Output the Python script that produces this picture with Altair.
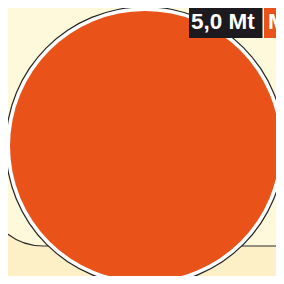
import altair as alt
import pandas as pd

# ---- values (reference pixel frame, 284 x 284) ----
tonnage_label = ["5,0 Mt", "Mt"]
label_colors = ["#1c1a1f", "#e9531a"]
bubble_center = [145.0, 146.0]
bubble_radii = [139.8, 138.6, 135.0]          # outline, white ring, disc
bubble_colors = ["#222222", "#ffffff", "#e9531a"]

# page has an 8px margin: chart covers the reference frame 8..276
PW = 268
xs = alt.Scale(domain=[8, 276], range=[0, PW])
ys = alt.Scale(domain=[8, 276], range=[0, PW])
X = lambda f: alt.X(f, scale=xs, axis=None)
Y = lambda f: alt.Y(f, scale=ys, axis=None)

# light panel with rounded bottom-left corner
panel = pd.DataFrame({"x": [-15], "x2": [400], "y": [-60], "y2": [246]})
panel_ch = alt.Chart(panel).mark_rect(
    fill="#fff9dc", stroke="#2a2a2a", strokeWidth=1.2,
    cornerRadius=58, clip=True
).encode(x=X("x:Q"), x2="x2:Q", y=Y("y:Q"), y2="y2:Q")

# bubble as concentric discs
circ = pd.DataFrame({
    "cx": [bubble_center[0]] * 3, "cy": [bubble_center[1]] * 3,
    "r": bubble_radii, "c": bubble_colors, "o": [0, 1, 2],
})
discs = []
for i in range(3):
    discs.append(
        alt.Chart(circ).transform_filter(alt.datum.o == i).mark_arc(
            theta=0, theta2=6.28319, radius=bubble_radii[i],
            color=bubble_colors[i], clip=True
        ).encode(x=X("cx:Q"), y=Y("cy:Q"))
    )

# labels (nudged so they stay inside the visible frame)
lab = pd.DataFrame({
    "x": [189, 264], "x2": [262.5, 330], "y": [-10, -10], "y2": [38, 38],
    "tx": [191, 268], "ty": [29, 29], "label": tonnage_label, "c": label_colors,
})
lab_box = alt.Chart(lab).mark_rect(clip=True).encode(
    x=X("x:Q"), x2="x2:Q", y=Y("y:Q"), y2="y2:Q",
    color=alt.Color("c:N", scale=None),
)
lab_txt = alt.Chart(lab).mark_text(
    align="left", baseline="alphabetic", font="Liberation Sans",
    fontWeight="bold", fontSize=22.5, color="#ffffff", clip=True
).encode(x=X("tx:Q"), y=Y("ty:Q"), text="label:N")

chart = alt.layer(panel_ch, *discs, lab_box, lab_txt).properties(
    width=PW, height=PW, padding=0, autosize=alt.AutoSizeParams(type="none"),
    background="#fdefc6",
).configure_view(stroke=None)

chart.save("out.html", embed_options={"renderer": "svg", "actions": False})
